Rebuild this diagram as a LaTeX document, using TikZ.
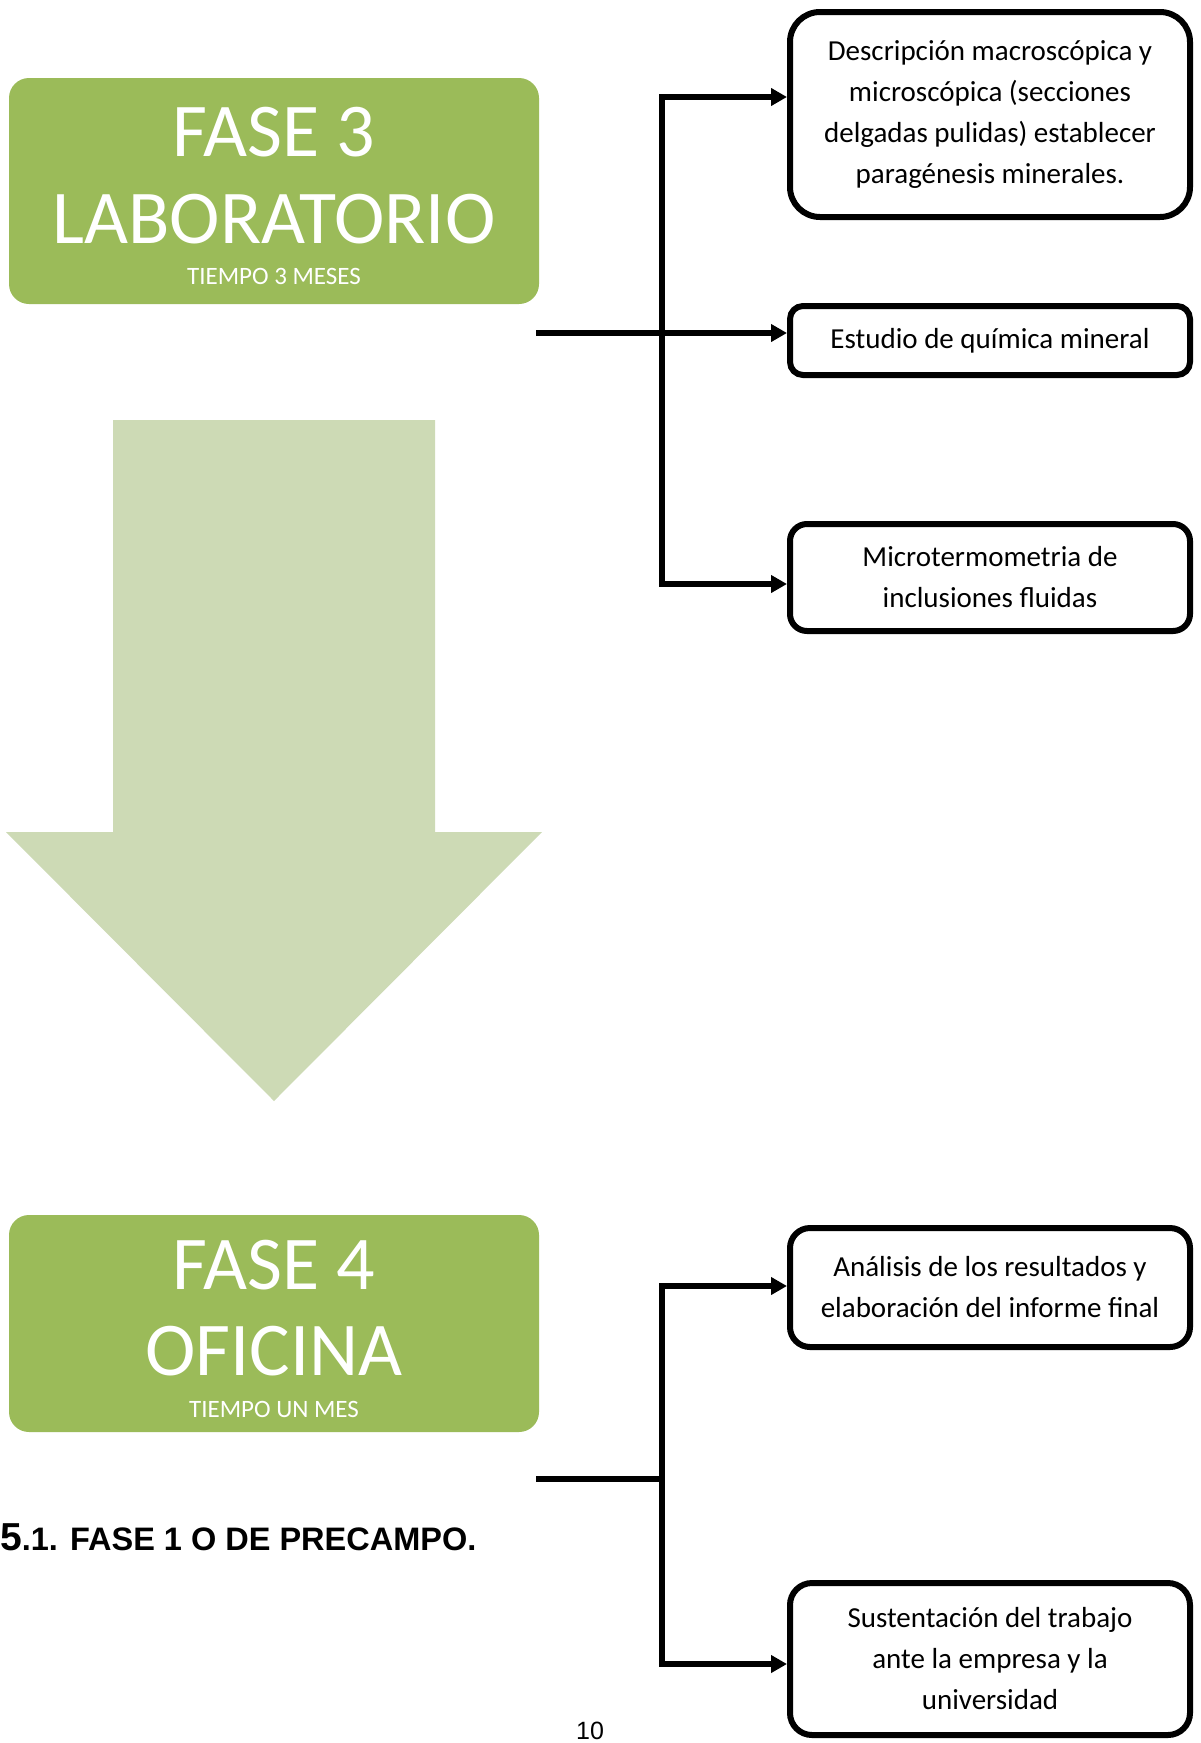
\documentclass[tikz,border=0pt]{standalone}
\usepackage{fontspec}
\setmainfont{Carlito}
\newfontfamily\arialf{Liberation Sans}
\usetikzlibrary{arrows.meta}
\definecolor{phase}{HTML}{9BBB59}
\definecolor{flow}{HTML}{CDDAB5}
\tikzset{
  phasebox/.style={fill=phase, draw=none, rounded corners=20pt, minimum width=530pt, minimum height=226pt, inner sep=0pt},
  bigt/.style={text=white, font=\fontsize{76}{76}\selectfont, inner sep=0pt, anchor=base},
  smallt/.style={text=white, font=\fontsize{25}{25}\selectfont, inner sep=0pt, anchor=base},
  taskbox/.style={draw=black, line width=6pt, fill=white, minimum width=400pt, align=center, inner sep=0pt,
     font=\fontsize{29}{41}\selectfont},
  conn/.style={line width=5.5pt, draw=black, line join=miter},
  tip/.style={-{Triangle[length=16pt,width=17pt]}},
}
\begin{document}
\begin{tikzpicture}[x=1pt,y=-1pt]
\useasboundingbox (0,0) rectangle (1201,1743);
% big down arrow
\fill[flow] (113,420) -- (435,420) -- (435,832) -- (542,832) -- (274,1101) -- (6,832) -- (113,832) -- cycle;
% phase 3
\node[phasebox, minimum height=226pt] (g1) at (274,191) {};
\node[bigt] (g1a) at (274,156) {FASE 3};
\node[bigt] (g1b) at (274,243) {LABORATORIO};
\node[smallt] (g1c) at (274,284) {TIEMPO 3 MESES};
% phase 4
\node[phasebox, minimum height=217pt] (g2) at (274,1323.5) {};
\node[bigt] (g2a) at (274,1289) {FASE 4};
\node[bigt] (g2b) at (274,1375) {OFICINA};
\node[smallt] (g2c) at (274,1417) {TIEMPO UN MES};
% task boxes
\node[taskbox, minimum height=205pt, rounded corners=30pt] (b1) at (990,114.5) {Descripción macroscópica y\\microscópica (secciones\\delgadas pulidas) establecer\\paragénesis minerales.};
\node[taskbox, minimum height=69pt, rounded corners=13pt] (b2) at (990,340.5) {Estudio de química mineral};
\node[taskbox, minimum height=107pt, rounded corners=17pt] (b3) at (990,577.5) {Microtermometria de\\inclusiones fluidas};
\node[taskbox, minimum height=119pt, rounded corners=20pt] (b4) at (990,1287.5) {Análisis de los resultados y\\elaboración del informe final};
\node[taskbox, minimum height=152pt, rounded corners=22pt] (b5) at (990,1659) {Sustentación del trabajo\\ante la empresa y la\\universidad};
% connectors phase 3
\coordinate (s1) at (536,333);
\coordinate (a1) at (662,97);
\coordinate (a3) at (662,584);
\draw[conn, tip] (s1) -- (b2.west |- s1);
\draw[conn, {Triangle[length=16pt,width=17pt]}-{Triangle[length=16pt,width=17pt]}] (b1.west |- a1) -- (a1) -- (a3) -- (b3.west |- a3);
% connectors phase 4
\coordinate (s2) at (536,1479);
\coordinate (j2) at (662,1479);
\coordinate (a4) at (662,1286);
\coordinate (a5) at (662,1664);
\draw[conn] (s2) -- (j2);
\draw[conn, {Triangle[length=16pt,width=17pt]}-{Triangle[length=16pt,width=17pt]}] (b4.west |- a4) -- (a4) -- (a5) -- (b5.west |- a5);
% heading and page number
\node[anchor=base west, inner sep=0pt, font=\arialf\bfseries\fontsize{32.5}{32.5}\selectfont] (head) at (0,1550) {{\fontsize{39}{39}\selectfont 5}.1. FASE 1 O DE PRECAMPO.};
\node[anchor=base, inner sep=0pt, font=\arialf\fontsize{25}{25}\selectfont] (pnum) at (590,1739) {10};
\end{tikzpicture}
\end{document}
